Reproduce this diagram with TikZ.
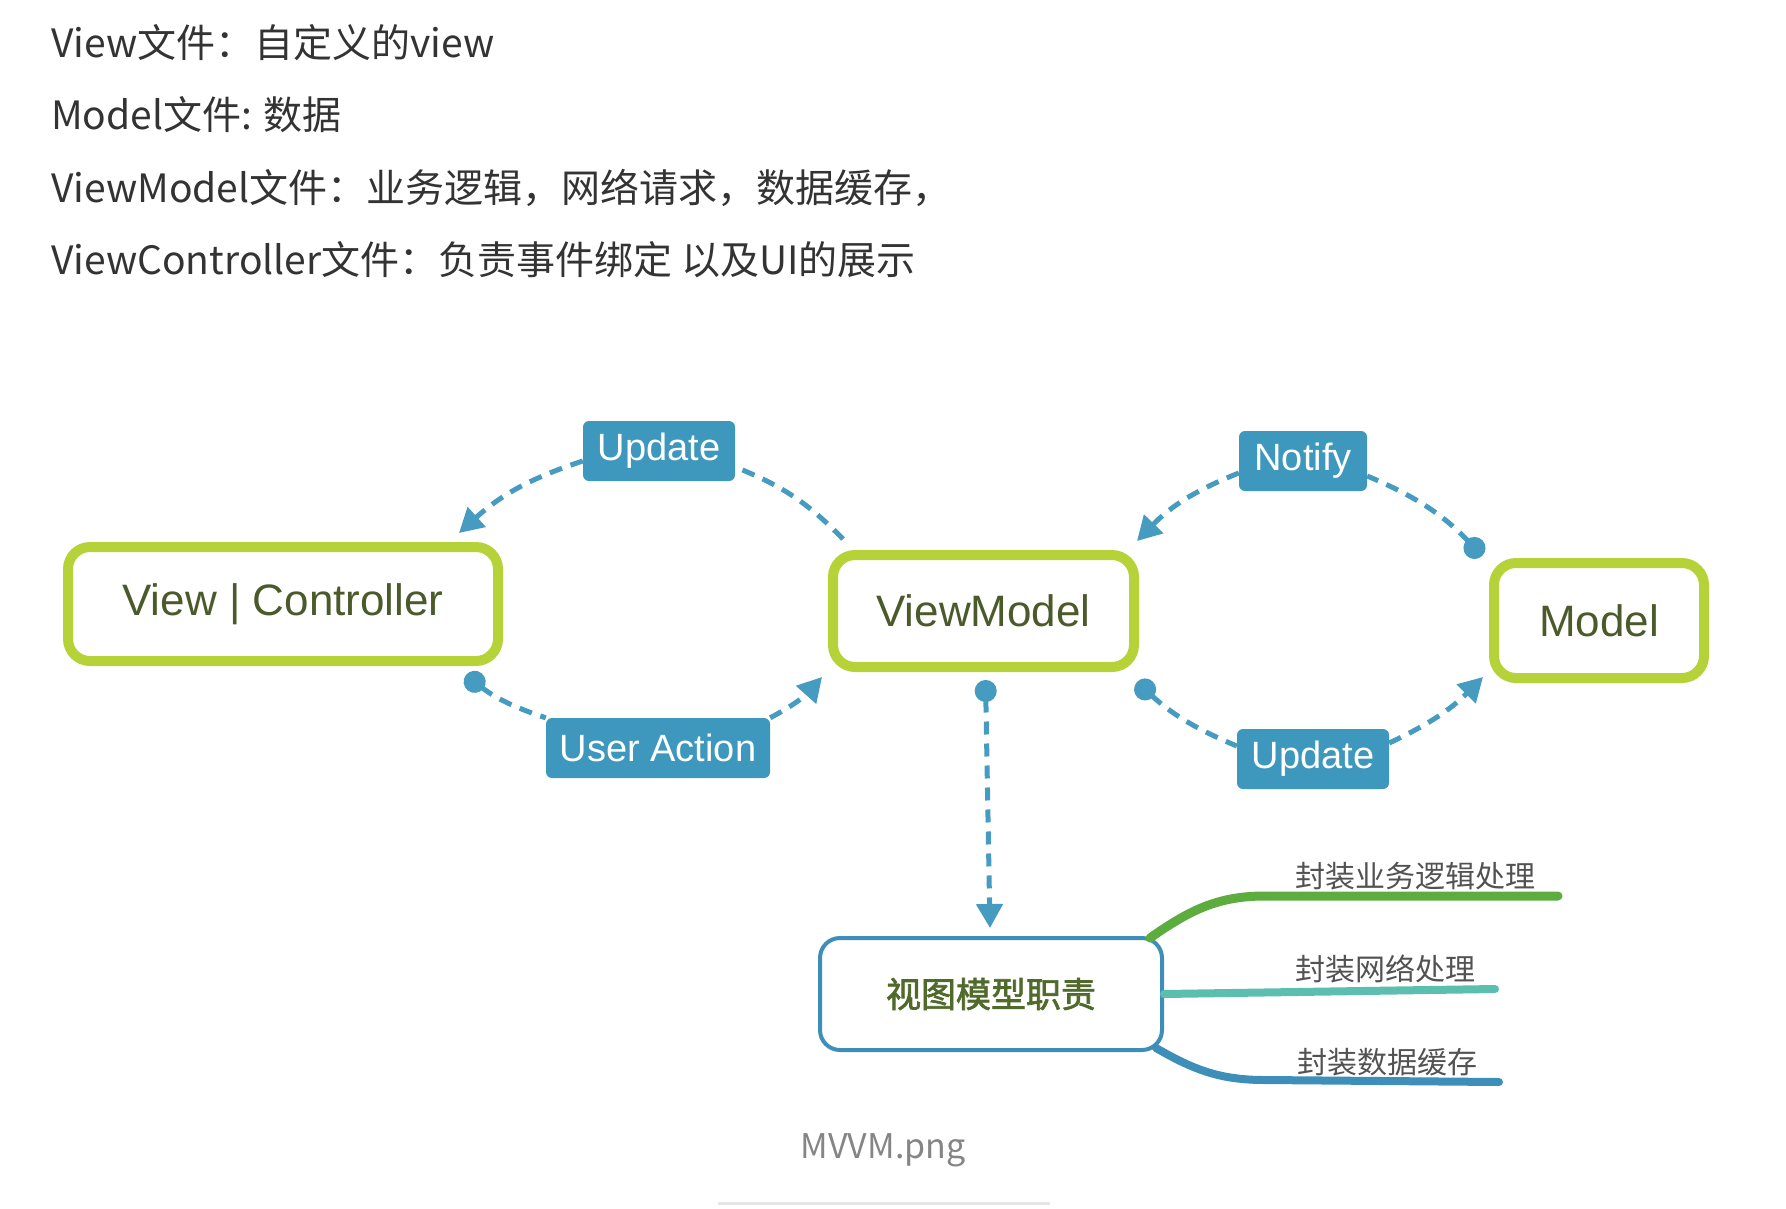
\documentclass[tikz,border=0pt]{standalone}
\usepackage{fontspec}
\usetikzlibrary{arrows.meta, calc}
\setmainfont{Liberation Sans}
\newfontfamily\cjk{Noto Sans CJK SC}
\newfontfamily\cjkheavy[FakeBold = 2]{Noto Sans CJK SC}
\definecolor{boxgreen}{RGB}{181,211,56}
\definecolor{linkblue}{RGB}{70,155,192}
\definecolor{tagblue}{RGB}{62,152,189}
\definecolor{olive}{RGB}{75,90,42}
\definecolor{respgreen}{RGB}{80,106,44}
\definecolor{branchgreen}{RGB}{92,172,62}
\definecolor{branchteal}{RGB}{92,190,174}
\definecolor{branchblue}{RGB}{61,143,185}
\definecolor{headgray}{RGB}{51,51,51}
\tikzset{
	mvbox/.style = {draw = boxgreen, line width = 10pt, rounded corners = 22pt, fill = white, text = olive, font = \fontsize{44}{50}\selectfont, inner sep = 0pt},
	tag/.style = {fill = tagblue, rounded corners = 6pt, text = white, font = \fontsize{38}{44}\selectfont, inner sep = 0pt, minimum height = 60pt},
	link/.style = {draw = linkblue, line width = 5pt, dash pattern = on 13pt off 9pt},
	tip/.style = {-{Triangle[length = 24pt, width = 26pt]}},
	dot/.style = {{Circle[length = 22pt]}-},
	dottip/.style = {{Circle[length = 22pt]}-{Triangle[length = 24pt, width = 26pt]}},
	branch/.style = {line width = 8pt, line cap = round},
	branchtext/.style = {anchor = west, inner sep = 0pt, text = headgray!85, font = \cjk\fontsize{30}{36}\selectfont}
}

\begin{document}
\begin{tikzpicture}[x = 1pt, y = -1pt]
	\useasboundingbox (0,0) rectangle (1786,1208);
	% file notes
	\foreach \i/\y/\t in {1/43/{View文件：自定义的view}, 2/115/{Model文件: 数据}, 3/188/{ViewModel文件：业务逻辑，网络请求，数据缓存，}, 4/260/{ViewController文件：负责事件绑定 以及UI的展示}}
	\node (h\i) at (51,\y) [anchor = west, inner sep = 0pt, text = headgray, font = \cjk\fontsize{39}{46}\selectfont] {\t};

	% mvvm boxes
	\node (vc) at (283,604) [mvbox, minimum width = 430pt, minimum height = 114pt] {View | Controller};
	\node (vm) at (983.5,611) [mvbox, minimum width = 301pt, minimum height = 112pt] {ViewModel};
	\node (md) at (1599,620.5) [mvbox, minimum width = 210pt, minimum height = 115pt] {Model};

	\node (upd1) at (659,451) [tag, minimum width = 152pt] {Update};
	\node (ua) at (658,748) [tag, minimum width = 224pt] {User Action};
	\node (nt) at (1303,461) [tag, minimum width = 128pt] {Notify};
	\node (upd2) at (1313,759) [tag, minimum width = 152pt] {Update};

	\draw[link] ($(vm.north west)+(15,-11)$) to[bend right = 12] ($(upd1.east)+(0,16)$);
	\draw[link, tip] ($(upd1.west)+(0,10)$) to[bend right = 12] ($(vc.north east)+(-44,-9)$);
	\draw[link, dot] ($(vc.south east)+(-37,9)$) to[bend right = 10] (ua.north west);
	\draw[link, tip] (ua.north east) to[bend right = 10] ($(vm.south west)+(-6,5)$);
	\draw[link, dot] ($(md.north west)+(-7,-2)$) to[bend right = 12] ($(nt.east)+(0,15)$);
	\draw[link, tip] ($(nt.west)+(0,12)$) to[bend right = 12] ($(vm.north east)+(-2,-9)$);
	\draw[link, dot] ($(vm.south east)+(-2,10)$) to[bend right = 10] ($(upd2.west)+(0,-13)$);
	\draw[link, tip] ($(upd2.east)+(0,-16)$) to[bend right = 10] ($(md.south west)+(-6,-6)$);

	% responsibilities
	\node (rb) at (991,994) [draw = branchblue, line width = 4pt, rounded corners = 20pt, fill = white, minimum width = 342pt, minimum height = 112pt, text = respgreen, font = \cjkheavy\fontsize{35}{40}\selectfont] {视图模型职责};
	\draw[link, dottip] ($(vm.south)+(2,8)$) -- ($(rb.north)+(-1,-8)$);

	\node (l1) at (1295,876) [branchtext] {封装业务逻辑处理};
	\node (l2) at (1295,969) [branchtext] {封装网络处理};
	\node (l3) at (1297,1062) [branchtext] {封装数据缓存};
	\coordinate (e1) at (1558,896);
	\coordinate (e2) at (1495,989);
	\coordinate (e3) at (1499,1082);
	\draw[branch, branchgreen, line width = 9pt] ($(rb.north east)+(-14,2)$) to[out = 35, in = 180] (1265,896) -- (e1);
	\draw[branch, branchteal] (rb.east) -- (e2);
	\draw[branch, branchblue] ($(rb.south east)+(-8,-4)$) to[out = -30, in = 180] (1265,1080) -- (e3);

	\node (cap) at (883,1150) [text = headgray!60, font = \cjk\fontsize{34}{40}\selectfont] {MVVM.png};
	\draw[gray!20, line width = 3pt] (718,1203) -- (1050,1203);
\end{tikzpicture}
\end{document}
